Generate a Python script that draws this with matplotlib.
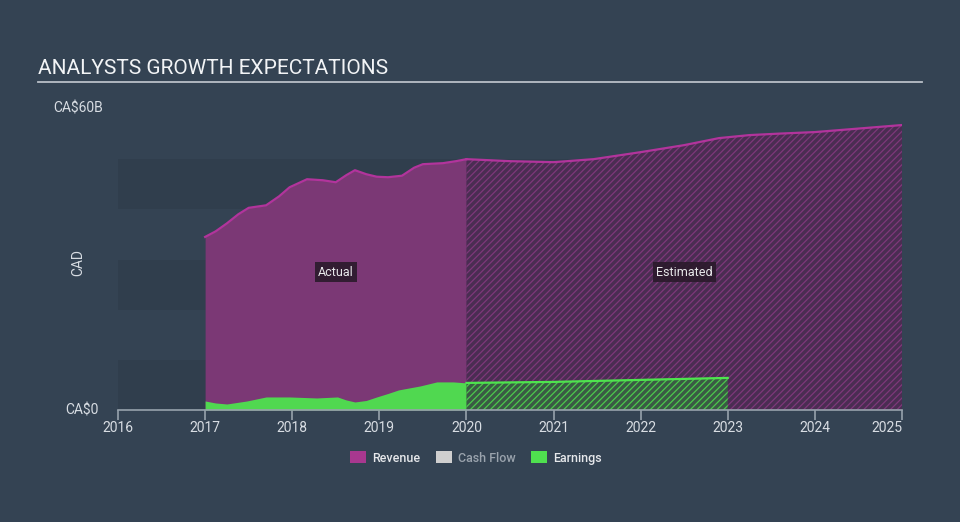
import numpy as np
import matplotlib
matplotlib.use("Agg")
import matplotlib.pyplot as plt
from matplotlib.patches import Patch

plt.rcParams["font.family"] = ["Roboto", "DejaVu Sans"]
plt.rcParams["hatch.linewidth"] = 0.9

# ---------------- data (CA$ billions) ----------------
rev_years = [2017.0, 2017.12, 2017.25, 2017.38, 2017.5, 2017.7, 2017.85, 2017.97,
             2018.17, 2018.35, 2018.5, 2018.62, 2018.72, 2018.85, 2018.97,
             2019.1, 2019.26, 2019.4, 2019.5, 2019.73, 2019.88, 2020.0]
rev_vals = [34.5, 35.6, 37.2, 39.0, 40.3, 40.8, 42.6, 44.4,
            46.0, 45.8, 45.4, 46.8, 47.8, 47.0, 46.5,
            46.4, 46.7, 48.3, 49.0, 49.2, 49.6, 50.0]

rev_est_years = [2020.0, 2020.5, 2021.0, 2021.46, 2022.0, 2022.5, 2022.9, 2023.25, 2023.6, 2024.0, 2024.5, 2025.0]
rev_est_vals = [50.0, 49.6, 49.4, 50.0, 51.4, 52.8, 54.2, 54.8, 55.1, 55.4, 56.1, 56.8]

earn_years = [2017.0, 2017.12, 2017.25, 2017.48, 2017.7, 2017.97, 2018.28, 2018.52,
              2018.62, 2018.72, 2018.85, 2018.97, 2019.1, 2019.22, 2019.47,
              2019.66, 2019.85, 2020.0]
earn_vals = [1.8, 1.4, 1.2, 1.8, 2.6, 2.6, 2.4, 2.6,
             2.0, 1.6, 1.9, 2.6, 3.3, 4.0, 4.8,
             5.6, 5.6, 5.4]

earn_est_years = [2020.0, 2021.0, 2022.0, 2023.0]
earn_est_vals = [5.4, 5.6, 6.0, 6.4]

year_ticks = list(range(2016, 2026))
band_ranges = [(0, 10), (20, 30), (40, 50)]

BG = "#344353"

fig = plt.figure(figsize=(9.6, 5.22), dpi=100, facecolor=BG)
ax = fig.add_axes([118 / 960, (522 - 410) / 522, (902 - 118) / 960, 301 / 522])
ax.set_facecolor("none")
ax.set_xlim(2016, 2025.0)
ax.set_ylim(0, 60)

for lo, hi in band_ranges:
    ax.axhspan(lo, hi, color="#303e4d", lw=0, zorder=0)

# actual revenue
ax.fill_between(rev_years, 0, rev_vals, color="#7b3875", lw=0, zorder=1)
ax.plot(rev_years, rev_vals, color="#b2349c", lw=1.6, zorder=3)

# estimated revenue
ax.fill_between(rev_est_years, 0, rev_est_vals, facecolor="#4a2d52",
                edgecolor="#7e387a", hatch="/////", lw=0, zorder=1)
ax.plot(rev_est_years, rev_est_vals, color="#b2349c", lw=1.6, zorder=3)

# actual earnings
ax.fill_between(earn_years, 0, earn_vals, color="#50d850", lw=0, zorder=2)

# estimated earnings
ax.fill_between(earn_est_years, 0, earn_est_vals, facecolor="#3a5a44",
                edgecolor="#4cc84c", hatch="/////", lw=0, zorder=2)
ax.plot(earn_est_years, earn_est_vals, color="#4ee44e", lw=1.6, zorder=3)

for s in ["top", "right", "left"]:
    ax.spines[s].set_visible(False)
ax.spines["bottom"].set_color("#97a2ad")
ax.spines["bottom"].set_linewidth(1.2)
ax.spines["bottom"].set_zorder(4)

ax.set_xticks(year_ticks)
ax.set_xticklabels([str(y) for y in year_ticks])
ax.tick_params(axis="x", colors="#97a2ad", length=7, width=1.2, labelsize=10,
               labelcolor="#d8dde3", pad=1)
ax.get_xticklabels()[-1].set_horizontalalignment("right")
ax.get_xticklabels()[-1].set_x(2025.1)
ax.set_yticks([])

ax.text(-0.025, 0, "CA$0", transform=ax.transAxes, ha="right", va="center",
        color="#d8dde3", fontsize=10)
fig.text(53 / 960, 1 - 109 / 522, "CA$60B", ha="left", va="center",
         color="#d8dde3", fontsize=10)
fig.text(78 / 960, 1 - 262 / 522, "CAD", ha="center", va="center",
         rotation=90, color="#d8dde3", fontsize=10)

lbl_box = dict(boxstyle="square,pad=0.25", facecolor="#2a1a2b", edgecolor="none", alpha=0.9)
ax.text(2018.5, 27.5, "Actual", ha="center", va="center", color="#e8e8ea",
        fontsize=9, bbox=lbl_box, zorder=5)
ax.text(2022.5, 27.5, "Estimated", ha="center", va="center", color="#e8e8ea",
        fontsize=9, bbox=lbl_box, zorder=5)

# title
fig.text(38 / 960, 1 - 68 / 522, "ANALYSTS GROWTH EXPECTATIONS", ha="left",
         va="center", color="#f2f4f6", fontsize=15)
fig.add_artist(plt.Line2D([38 / 960, 922 / 960], [1 - 82 / 522, 1 - 82 / 522],
                          color="#b9c0c8", lw=1.3))

handles = [Patch(facecolor="#a8388f"), Patch(facecolor="#cfcfcf"), Patch(facecolor="#4fe04f")]
leg = fig.legend(handles, ["Revenue", "Cash Flow", "Earnings"], loc="center",
                 bbox_to_anchor=(476 / 960, 1 - 458 / 522), ncol=3, frameon=False,
                 prop={"size": 9, "weight": "medium"}, handlelength=1.3, handleheight=1.1,
                 columnspacing=1.2, handletextpad=0.5)
for t, c in zip(leg.get_texts(), ["#e6e8eb", "#9aa3ad", "#e6e8eb"]):
    t.set_color(c)

fig.savefig("out.png", dpi=100, facecolor=BG)
